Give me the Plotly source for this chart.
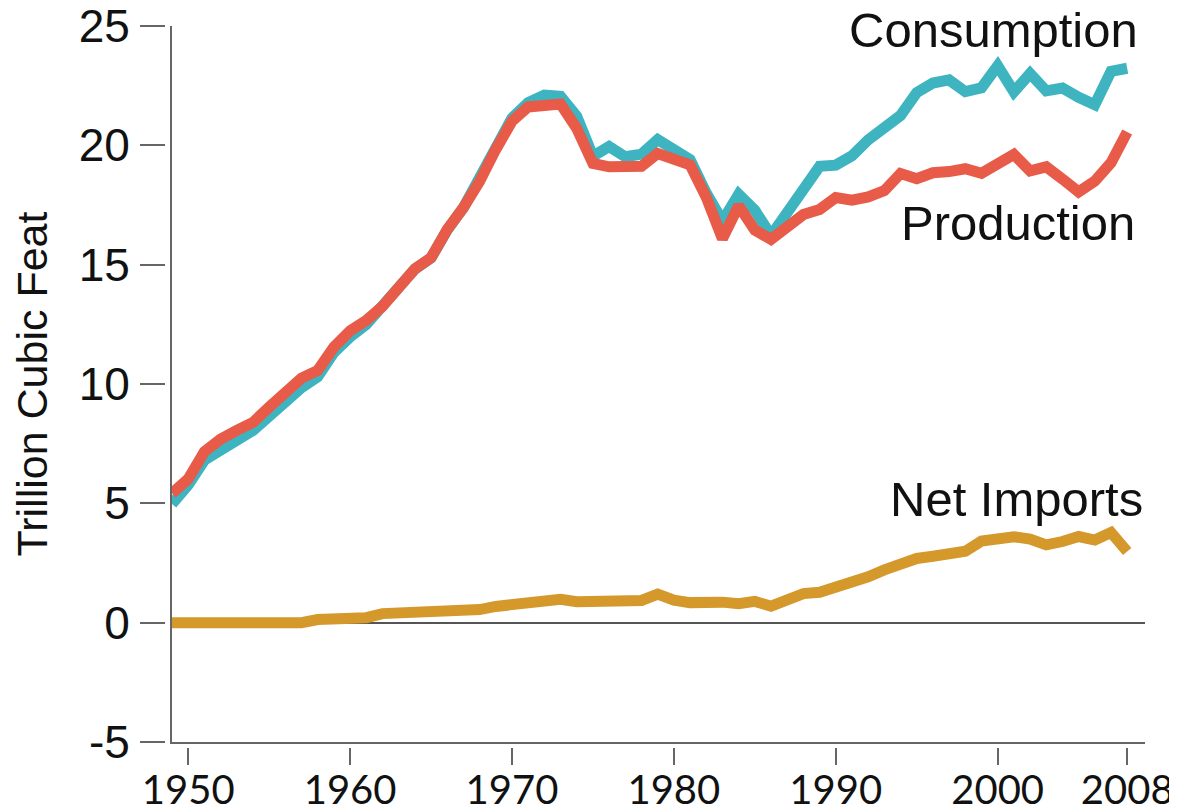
import plotly.graph_objects as go

years = list(range(1949, 2009))

consumption = [
    4.97, 5.77, 6.81, 7.29, 7.64, 8.05, 8.69, 9.29, 9.85, 10.30,
    11.32, 11.97, 12.49, 13.27, 13.97, 14.81, 15.28, 16.45, 17.39, 18.63,
    20.06, 21.14, 21.79, 22.10, 22.05, 21.22, 19.54, 19.95, 19.52, 19.63,
    20.24, 19.88, 19.40, 18.00, 16.83, 17.95, 17.28, 16.22, 17.21, 18.03,
    19.12, 19.17, 19.56, 20.23, 20.79, 21.25, 22.21, 22.61, 22.74, 22.25,
    22.41, 23.33, 22.24, 23.01, 22.28, 22.40, 22.01, 21.70, 23.10, 23.23,
]

production = [
    5.42, 6.02, 7.16, 7.69, 8.06, 8.39, 9.03, 9.66, 10.25, 10.57,
    11.55, 12.23, 12.66, 13.25, 14.08, 14.82, 15.29, 16.47, 17.39, 18.49,
    19.83, 21.01, 21.61, 21.62, 21.73, 20.71, 19.24, 19.10, 19.16, 19.12,
    19.66, 19.40, 19.18, 17.82, 16.09, 17.47, 16.45, 16.06, 16.62, 17.10,
    17.31, 17.81, 17.70, 17.84, 18.10, 18.82, 18.60, 18.85, 18.90, 19.02,
    18.83, 19.18, 19.62, 18.93, 19.10, 18.59, 18.05, 18.50, 19.27, 20.56,
]

net_imports = [
    0.00, 0.00, 0.00, 0.00, 0.00, 0.00, 0.00, 0.00, 0.00, 0.13,
    0.12, 0.16, 0.21, 0.38, 0.40, 0.43, 0.43, 0.44, 0.47, 0.55,
    0.68, 0.75, 0.84, 0.96, 0.98, 0.88, 0.90, 0.90, 0.96, 0.93,
    1.20, 0.94, 0.84, 0.88, 0.86, 0.79, 0.89, 0.69, 0.94, 1.22,
    1.27, 1.45, 1.64, 1.92, 2.21, 2.46, 2.69, 2.78, 2.84, 2.99,
    3.42, 3.54, 3.60, 3.50, 3.26, 3.40, 3.61, 3.46, 3.78, 2.98,
]

x_ticks = [1950, 1960, 1970, 1980, 1990, 2000, 2008]
y_ticks = [-5, 0, 5, 10, 15, 20, 25]
y_tick_text = ["-5", "0", "5", "10", "15", "20", "25"]

TEAL = "#3db4bf"
RED = "#e75b48"
GOLD = "#d4982b"
AXIS = "#666666"
FONT = "Liberation Sans, Arial, sans-serif"

x_range = [1949, 2009.1]
y_range = [-5, 25]

fig = go.Figure()
fig.add_trace(go.Scatter(x=years, y=consumption, mode="lines", name="Consumption",
                         line=dict(color=TEAL, width=11)))
fig.add_trace(go.Scatter(x=years, y=production, mode="lines", name="Production",
                         line=dict(color=RED, width=11)))
# net imports sits on the offset tick axes (same ranges) so those axes get drawn
fig.add_trace(go.Scatter(x=years, y=net_imports, mode="lines", name="Net Imports",
                         xaxis="x2", yaxis="y2", line=dict(color=GOLD, width=11)))

labels = [
    ("Consumption", 2008.8, consumption[-1] + 1.6),
    ("Production", 2008.6, production[-1] - 3.8),
    ("Net Imports", 2009.1, net_imports[-1] + 2.2),
]
for text, x, y in labels:
    fig.add_annotation(x=x, y=y, text=text, showarrow=False, xanchor="right",
                       yanchor="middle", font=dict(size=49, color="#111111", family=FONT))

# page body keeps its 8px margin, so the figure is sized to fit inside the window
fig.update_layout(
    width=1169,
    height=803,
    showlegend=False,
    plot_bgcolor="white",
    paper_bgcolor="white",
    margin=dict(l=157, r=32, t=18, b=64, autoexpand=False),
    font=dict(family=FONT, color="#111111"),
    xaxis=dict(
        domain=[0.00714, 1], range=x_range, showline=True, linecolor=AXIS, linewidth=2,
        ticks="", showticklabels=False, showgrid=False, zeroline=False, automargin=False,
    ),
    yaxis=dict(
        domain=[0.00693, 1], range=y_range, showline=True, linecolor=AXIS, linewidth=2,
        ticks="", showticklabels=False, showgrid=False, automargin=False,
        zeroline=True, zerolinecolor="#555555", zerolinewidth=2,
    ),
    xaxis2=dict(
        overlaying="x", anchor="free", position=0, range=x_range, automargin=False,
        tickvals=x_ticks, ticks="outside", ticklen=17, tickwidth=2, tickcolor=AXIS,
        showline=False, showgrid=False, zeroline=False,
        ticklabelstandoff=-9, ticklabeloverflow="allow",
        tickfont=dict(size=40, family="Lato, sans-serif", color="#111111"),
    ),
    yaxis2=dict(
        overlaying="y", anchor="free", position=0, range=y_range, automargin=False,
        tickvals=y_ticks, ticktext=y_tick_text, ticks="outside", ticklen=25,
        tickwidth=2, tickcolor=AXIS, ticklabelstandoff=1, ticklabeloverflow="allow",
        showline=False, showgrid=False, zeroline=False,
        tickfont=dict(size=46, color="#111111"),
        title=dict(text="Trillion Cubic Feat", font=dict(size=43), standoff=16),
    ),
)

fig.write_html("out.html")
